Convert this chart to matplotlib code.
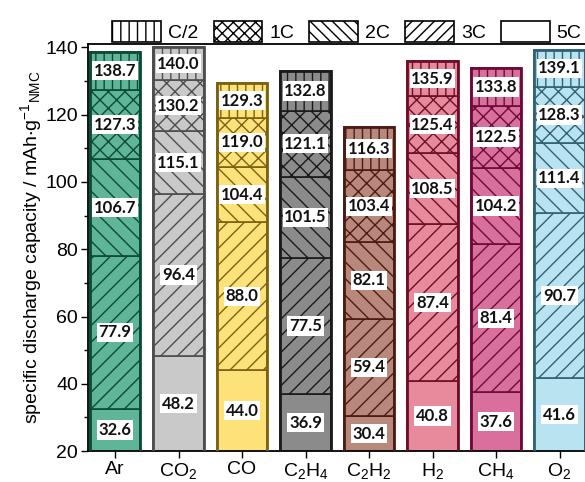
import numpy as np
import matplotlib.pyplot as plt
from matplotlib.patches import Patch

plt.rcParams['font.family'] = ['Liberation Sans', 'DejaVu Sans']
plt.rcParams['mathtext.default'] = 'regular'
plt.rcParams['hatch.linewidth'] = 1.0

gases = ['Ar', 'CO$_2$', 'CO', 'C$_2$H$_4$', 'C$_2$H$_2$', 'H$_2$', 'CH$_4$', 'O$_2$']
cap_5C = [32.6, 48.2, 44.0, 36.9, 30.4, 40.8, 37.6, 41.6]
cap_3C = [77.9, 96.4, 88.0, 77.5, 59.4, 87.4, 81.4, 90.7]
cap_2C = [106.7, 115.1, 104.4, 101.5, 82.1, 108.5, 104.2, 111.4]
cap_1C = [127.3, 130.2, 119.0, 121.1, 103.4, 125.4, 122.5, 128.3]
cap_C2 = [138.7, 140.0, 129.3, 132.8, 116.3, 135.9, 133.8, 139.1]

rates = ['C/2', '1C', '2C', '3C', '5C']
hatches = ['||', 'xxx', '\\\\\\', '///', '']

fill_colors = ['#5fb598', '#c9c9c9', '#fde27a', '#8b8b8b', '#b9887c', '#e88a9b', '#d8709b', '#b9e3f1']
edge_colors = ['#0b4a33', '#4d4d4d', '#7a6212', '#1a1a1a', '#4d1a12', '#6b0f28', '#6e0a3a', '#2f6274']

ymin = 20
x = np.arange(len(gases))
width = 0.8

fig = plt.figure(figsize=(5.85, 4.82), dpi=100)
ax = fig.add_axes([0.150, 0.064, 0.852, 0.845])

# stacked from the bottom: 5C, 3C, 2C, 1C, C/2
levels = [cap_5C, cap_3C, cap_2C, cap_1C, cap_C2]
seg_hatch = ['', '//', '\\\\', 'xx', '||']

for i in range(len(gases)):
    lower = 0
    for lev, h in zip(levels, seg_hatch):
        top = lev[i]
        ax.bar(x[i], top - lower, width, bottom=lower, color=fill_colors[i],
               edgecolor=edge_colors[i], hatch=h, linewidth=1.2, zorder=2)
        mid = (max(lower, ymin) + top) / 2
        ax.text(x[i], mid, f'{top:.1f}', ha='center', va='center',
                fontsize=12, fontweight='bold', family='Lato', color='#111111',
                bbox=dict(boxstyle='square,pad=0.1', fc='white', ec='none'),
                zorder=4)
        lower = top
    ax.bar(x[i], cap_C2[i], width, fill=False, edgecolor=edge_colors[i],
           linewidth=2.0, zorder=3)

ax.set_xlim(-0.43, 7.42)
ax.set_ylim(ymin, 141)
ax.set_xticks(x)
ax.set_xticklabels(gases)
ax.set_yticks(np.arange(20, 141, 20))
ax.set_yticks(np.arange(30, 141, 20), minor=True)
ax.tick_params(axis='both', labelsize=14, direction='out', length=5, width=1)
ax.tick_params(axis='y', which='minor', length=3, width=1)
ax.tick_params(axis='x', pad=2)
ax.tick_params(axis='y', pad=2)
for s in ax.spines.values():
    s.set_linewidth(1.3)

ax.set_ylabel('specific discharge capacity / mAh$\\cdot$g$^{-1}$$_{NMC}$', fontsize=14, labelpad=1)

handles = [Patch(facecolor='white', edgecolor='black', hatch=h, linewidth=1.2) for h in hatches]
ax.legend(handles, rates, ncol=5, loc='lower center', bbox_to_anchor=(0.52, 0.995),
          frameon=False, fontsize=14, handlelength=2.5, handleheight=1.3,
          handletextpad=0.35, columnspacing=0.8, borderaxespad=0, borderpad=0.2)

fig.savefig('out.png', dpi=100)
